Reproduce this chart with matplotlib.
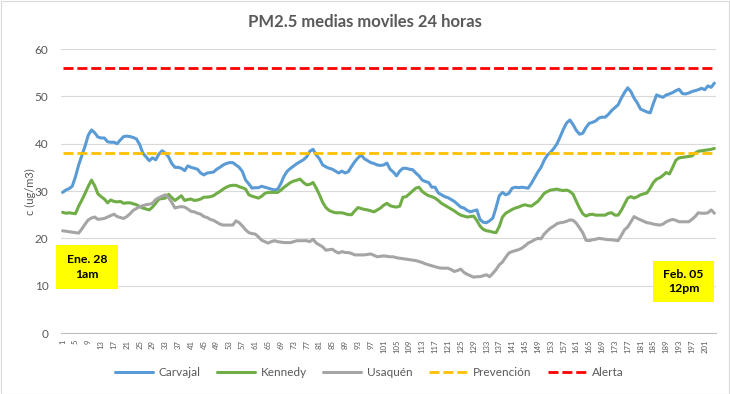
import numpy as np
import matplotlib
matplotlib.use("Agg")
import matplotlib.pyplot as plt
from matplotlib.patches import Rectangle

plt.rcParams['font.family'] = ['Lato', 'DejaVu Sans']

# hourly index (24h moving averages), Ene. 28 1am .. Feb. 05 12pm
carvajal = [
    29.7, 30.2, 30.5, 31.0, 33.0, 35.5, 37.5, 39.5, 41.8, 42.9,
    42.3, 41.4, 41.2, 41.2, 40.4, 40.3, 40.3, 40.0, 40.8, 41.5,
    41.6, 41.5, 41.3, 41.0, 39.8, 38.0, 37.2, 36.4, 37.0, 36.6,
    37.8, 38.5, 38.0, 37.2, 35.8, 35.0, 35.0, 34.8, 34.3, 35.3,
    35.0, 34.8, 34.6, 33.8, 33.4, 33.8, 33.9, 34.0, 34.6, 35.0,
    35.5, 35.8, 36.0, 36.0, 35.5, 35.0, 34.1, 32.3, 31.5, 30.6,
    30.7, 30.7, 31.0, 30.8, 30.6, 30.4, 30.2, 30.4, 31.6, 33.2,
    34.2, 34.8, 35.3, 35.8, 36.2, 36.6, 37.2, 38.4, 38.8, 37.6,
    36.8, 35.5, 35.1, 34.8, 34.6, 34.2, 33.8, 34.2, 33.8, 34.1,
    35.2, 36.2, 37.0, 37.6, 36.8, 36.4, 36.0, 35.8, 35.5, 35.4,
    35.5, 35.9, 34.6, 34.0, 33.2, 34.2, 34.8, 34.8, 34.6, 34.5,
    33.8, 33.2, 32.3, 32.0, 31.8, 30.8, 30.8, 29.6, 29.2, 28.8,
    28.6, 28.2, 27.8, 27.2, 26.6, 26.4, 25.9, 25.6, 25.8, 26.0,
    24.0, 23.4, 23.3, 23.7, 24.3, 26.5, 29.0, 29.7, 29.2, 29.5,
    30.6, 30.8, 30.7, 30.8, 30.7, 30.6, 31.6, 32.8, 34.0, 35.0,
    36.5, 37.6, 38.2, 39.0, 40.0, 41.5, 43.1, 44.4, 45.0, 44.0,
    42.8, 42.0, 42.2, 43.4, 44.3, 44.5, 44.8, 45.4, 45.6, 45.6,
    46.2, 47.0, 47.6, 48.2, 49.6, 50.8, 51.8, 51.0, 49.6, 48.6,
    47.3, 47.0, 46.7, 46.5, 48.5, 50.3, 50.0, 49.8, 50.3, 50.5,
    50.8, 51.2, 51.5, 50.6, 50.5, 50.7, 51.0, 51.2, 51.4, 51.7,
    51.4, 52.2, 51.9, 52.8,
]
kennedy = [
    25.5, 25.3, 25.4, 25.3, 25.2, 26.8, 28.1, 29.5, 31.0, 32.3,
    31.1, 29.4, 28.8, 28.3, 27.5, 28.1, 27.8, 27.7, 27.8, 27.4,
    27.5, 27.5, 27.3, 27.1, 26.7, 26.4, 26.2, 26.0, 26.6, 27.4,
    28.3, 28.4, 28.5, 29.3, 28.6, 28.0, 28.5, 29.0, 28.0, 28.2,
    28.3, 28.0, 28.1, 28.3, 28.7, 28.7, 28.8, 29.0, 29.5, 29.9,
    30.4, 30.8, 31.1, 31.2, 31.2, 30.9, 30.7, 30.4, 29.2, 28.9,
    28.7, 28.5, 28.9, 29.5, 29.7, 29.7, 29.7, 29.7, 30.2, 30.8,
    31.3, 31.8, 32.1, 32.3, 32.5, 31.8, 31.3, 31.4, 31.8, 30.6,
    29.2, 27.6, 26.5, 25.9, 25.6, 25.4, 25.4, 25.4, 25.2, 25.0,
    25.0, 25.8, 26.5, 26.3, 26.1, 26.0, 25.8, 25.6, 26.0, 26.4,
    27.0, 27.4, 26.9, 26.7, 26.6, 26.8, 28.7, 28.8, 29.4, 30.0,
    30.6, 30.8, 29.9, 29.4, 29.0, 28.8, 28.5, 28.0, 27.4, 27.0,
    26.6, 26.2, 25.8, 25.3, 24.9, 24.7, 24.5, 24.6, 24.7, 23.8,
    22.6, 21.9, 21.6, 21.5, 21.3, 21.2, 22.5, 24.5, 25.3, 25.7,
    26.1, 26.4, 26.6, 26.9, 27.1, 26.9, 26.8, 27.3, 27.8, 28.6,
    29.5, 29.9, 30.2, 30.3, 30.4, 30.2, 30.1, 30.2, 29.9, 29.3,
    27.8, 26.4, 25.2, 24.7, 25.0, 25.1, 24.9, 24.9, 24.9, 24.9,
    25.3, 25.4, 24.9, 24.9, 25.9, 27.2, 28.5, 28.8, 28.5, 28.8,
    29.2, 29.4, 29.6, 30.6, 31.8, 32.5, 32.8, 33.3, 33.9, 33.6,
    35.0, 36.5, 37.0, 37.1, 37.2, 37.3, 37.4, 38.0, 38.4, 38.5,
    38.6, 38.7, 38.8, 39.0,
]
usaquen = [
    21.6, 21.5, 21.4, 21.3, 21.2, 21.1, 22.0, 23.0, 23.9, 24.3,
    24.5, 24.0, 24.1, 24.2, 24.5, 24.8, 25.1, 24.6, 24.4, 24.2,
    24.6, 25.2, 25.9, 26.3, 26.7, 26.9, 27.1, 27.2, 27.4, 28.2,
    28.6, 28.9, 29.2, 28.6, 27.6, 26.4, 26.6, 26.7, 26.6, 26.2,
    25.7, 25.6, 25.3, 25.1, 24.6, 24.4, 24.0, 23.8, 23.4, 23.0,
    22.8, 22.8, 22.8, 22.8, 23.7, 23.3, 22.6, 21.8, 21.2, 21.0,
    20.9, 20.3, 19.6, 19.3, 19.0, 19.3, 19.5, 19.3, 19.2, 19.1,
    19.1, 19.1, 19.3, 19.5, 19.5, 19.5, 19.5, 19.3, 19.8, 19.0,
    18.6, 18.2, 17.5, 17.6, 17.7, 17.2, 16.9, 17.2, 17.0, 17.0,
    16.8, 16.5, 16.5, 16.5, 16.5, 16.6, 16.7, 16.4, 16.1, 16.2,
    16.3, 16.2, 16.1, 16.1, 15.9, 15.8, 15.7, 15.6, 15.5, 15.4,
    15.3, 15.1, 14.9, 14.6, 14.4, 14.2, 14.0, 13.8, 13.7, 13.7,
    13.7, 13.4, 13.0, 13.2, 13.5, 12.8, 12.4, 12.1, 11.8, 11.9,
    11.9, 12.1, 12.3, 11.9, 12.6, 13.4, 14.4, 15.0, 16.0, 16.9,
    17.2, 17.4, 17.6, 17.9, 18.4, 19.0, 19.3, 19.7, 20.0, 19.9,
    20.9, 21.6, 22.2, 22.6, 23.1, 23.3, 23.4, 23.6, 23.9, 23.8,
    23.2, 22.2, 21.2, 19.6, 19.5, 19.7, 19.8, 20.0, 19.9, 19.8,
    19.7, 19.7, 19.6, 19.5, 20.6, 21.8, 22.4, 23.5, 24.6, 24.2,
    23.9, 23.6, 23.3, 23.2, 23.0, 22.9, 22.8, 23.0, 23.5, 23.8,
    24.0, 23.8, 23.5, 23.5, 23.5, 23.5, 24.0, 24.6, 25.4, 25.3,
    25.3, 25.4, 26.0, 25.3,
]
prevencion = 38
alerta = 56

hours = np.arange(1, len(carvajal) + 1)
tick_pos = hours[::4]

W, H = 730, 394
fig = plt.figure(figsize=(W / 100, H / 100), dpi=100)
fig.patches.append(Rectangle((0.5 / W, 0.5 / H), 1 - 1.5 / W, 1 - 1.5 / H,
                             transform=fig.transFigure, fill=False,
                             edgecolor='#d9d9d9', linewidth=0.8))

ax = fig.add_axes([61 / W, 1 - 333 / H, 655 / W, 284 / H])

ax.plot(hours, carvajal, color='#5b9bd5', lw=2.2, label='Carvajal', solid_capstyle='round')
ax.plot(hours, kennedy, color='#70ad47', lw=2.2, label='Kennedy', solid_capstyle='round')
ax.plot(hours, usaquen, color='#a5a5a5', lw=2.2, label='Usaquén', solid_capstyle='round')
ax.plot(hours, [prevencion] * len(hours), color='#ffc000', lw=2.0,
        linestyle=(0, (3.6, 1.4)), label='Prevención')
ax.plot(hours, [alerta] * len(hours), color='#ff0000', lw=2.0,
        linestyle=(0, (3.6, 1.4)), label='Alerta')

ax.set_xlim(0.5, len(hours) + 0.5)
ax.set_ylim(0, 60)
ax.set_yticks(range(0, 61, 10))
ax.set_xticks(tick_pos)
ax.set_xticklabels([str(t) for t in tick_pos], rotation=90, fontsize=5.6, color='#595959')
ax.tick_params(axis='y', length=0, pad=9, labelsize=8.5, labelcolor='#595959')
ax.tick_params(axis='x', length=0, pad=5)
ax.grid(axis='y', color='#d9d9d9', lw=0.8)
ax.set_axisbelow(True)
for s in ['top', 'right', 'left']:
    ax.spines[s].set_visible(False)
ax.spines['bottom'].set_color('#bfbfbf')
ax.spines['bottom'].set_linewidth(0.8)

fig.text(30 / W, 1 - 192 / H, 'c (ug/m3)', rotation=90, ha='center', va='center',
         fontsize=8, color='#595959')
fig.text(365 / W, 1 - 22 / H, 'PM2.5 medias moviles 24 horas', ha='center', va='center',
         fontsize=12, fontweight='bold', color='#595959')

# date boxes
for (x0, y0, x1, y1, txt) in [(56, 245, 118, 289, 'Ene. 28\n1am'),
                               (653, 261, 714, 302, 'Feb. 05\n12pm')]:
    fig.patches.append(Rectangle((x0 / W, 1 - y1 / H), (x1 - x0) / W, (y1 - y0) / H,
                                 transform=fig.transFigure, facecolor='#ffff00',
                                 edgecolor='none', zorder=5))
    fig.text((x0 + x1) / 2 / W, 1 - (y0 + y1) / 2 / H, txt, ha='center', va='center',
             fontsize=8.8, fontweight='bold', color='black', linespacing=1.35, zorder=6)

fig.legend(loc='center', bbox_to_anchor=(369 / W, 1 - 373 / H), ncol=5, frameon=False,
           fontsize=8.5, labelcolor='#595959', handlelength=3.2, columnspacing=1.4,
           handletextpad=0.5)

fig.savefig('out.png', dpi=100)
